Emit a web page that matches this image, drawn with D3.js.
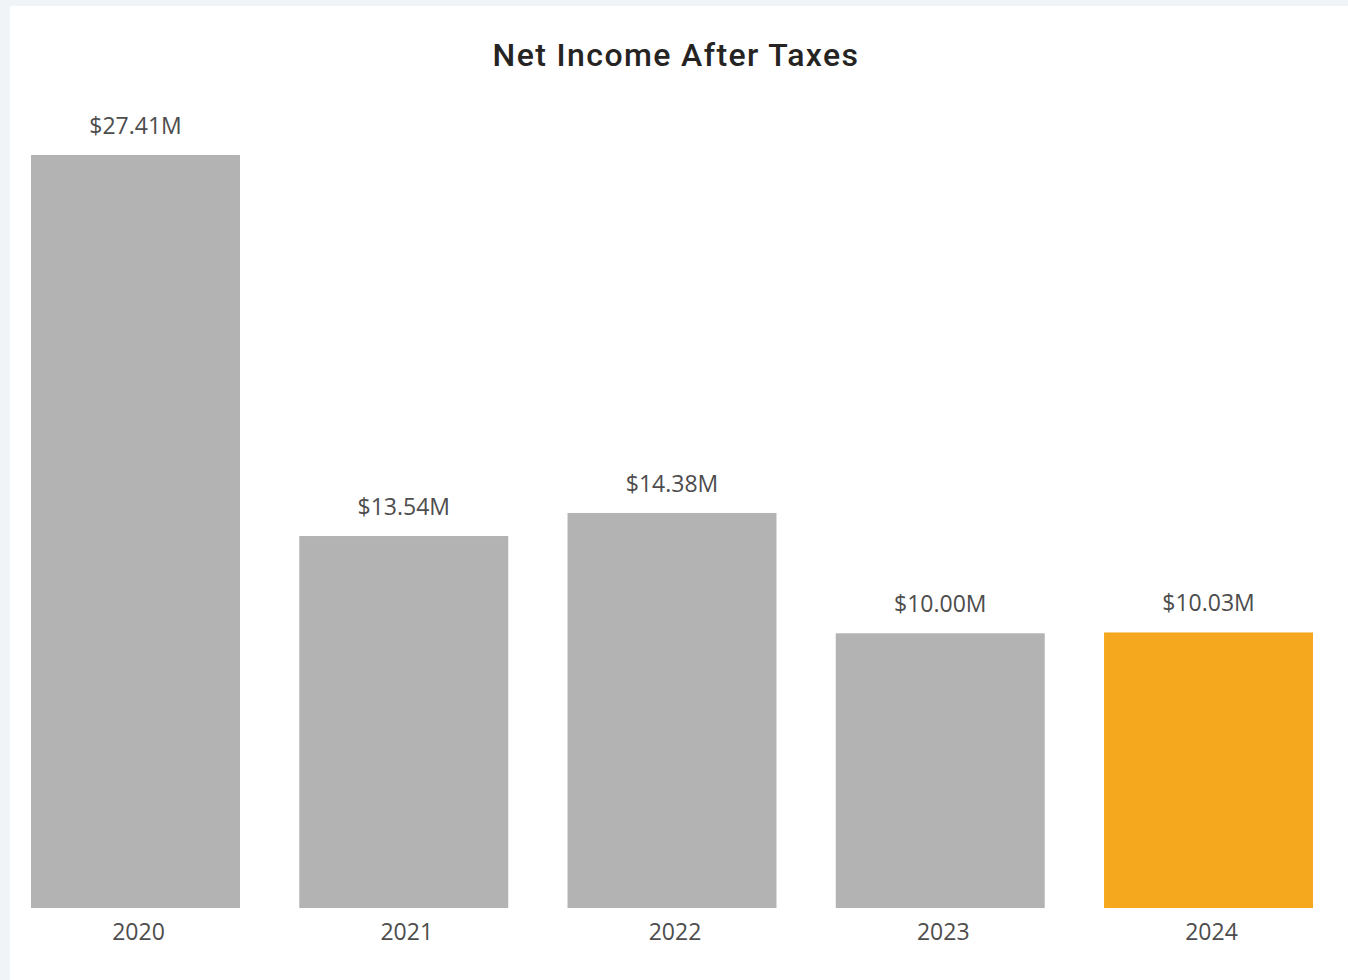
<!DOCTYPE html>
<html>
<head>
<meta charset="utf-8">
<script src="https://cdn.jsdelivr.net/npm/d3@7"></script>
<style>
  html, body { margin: 0; padding: 0; background: #f1f4f6; }
  svg { display: block; }
</style>
</head>
<body>
<script>
// Net income after taxes, in millions of dollars
const years = ["2020", "2021", "2022", "2023", "2024"];
const netIncome = [27.41, 13.54, 14.38, 10.00, 10.03];
const valueLabels = ["$27.41M", "$13.54M", "$14.38M", "$10.00M", "$10.03M"];
const highlightYear = "2024";

const W = 1348, H = 980;
const svg = d3.select("body").append("svg").attr("width", W).attr("height", H);

// white card
svg.append("rect").attr("x", 10).attr("y", 6).attr("width", W - 10).attr("height", H - 6).attr("fill", "#ffffff");

svg.append("text")
  .attr("x", 676).attr("y", 66)
  .attr("text-anchor", "middle")
  .attr("font-family", "Roboto, 'DejaVu Sans', sans-serif")
  .attr("font-weight", 500)
  .attr("font-size", 32)
  .attr("letter-spacing", 1.4)
  .attr("fill", "#252423")
  .text("Net Income After Taxes");

const x = d3.scaleBand().domain(years).range([31, 1313]).paddingInner(0.221).paddingOuter(0);
const y = d3.scaleLinear().domain([0, 27.41]).range([908, 155]);

const data = years.map((yr, i) => ({ year: yr, value: netIncome[i], label: valueLabels[i] }));

svg.append("g").selectAll("rect").data(data).join("rect")
  .attr("x", d => x(d.year))
  .attr("y", d => y(d.value))
  .attr("width", x.bandwidth())
  .attr("height", d => y(0) - y(d.value))
  .attr("fill", d => d.year === highlightYear ? "#f5a81d" : "#b3b3b3");

svg.append("g").selectAll("text").data(data).join("text")
  .attr("x", d => x(d.year) + x.bandwidth() / 2)
  .attr("y", d => y(d.value) - 21)
  .attr("text-anchor", "middle")
  .attr("font-family", "'Open Sans', sans-serif")
  .attr("font-size", 23)
  .attr("fill", "#4d4d4d")
  .text(d => d.label);

const xAxis = svg.append("g").attr("transform", "translate(3,908)")
  .call(d3.axisBottom(x).tickSize(0).tickPadding(16));
xAxis.select(".domain").remove();
xAxis.selectAll("text")
  .attr("font-family", "'Open Sans', sans-serif")
  .attr("font-size", 23)
  .attr("fill", "#4d4d4d");
</script>
</body>
</html>
